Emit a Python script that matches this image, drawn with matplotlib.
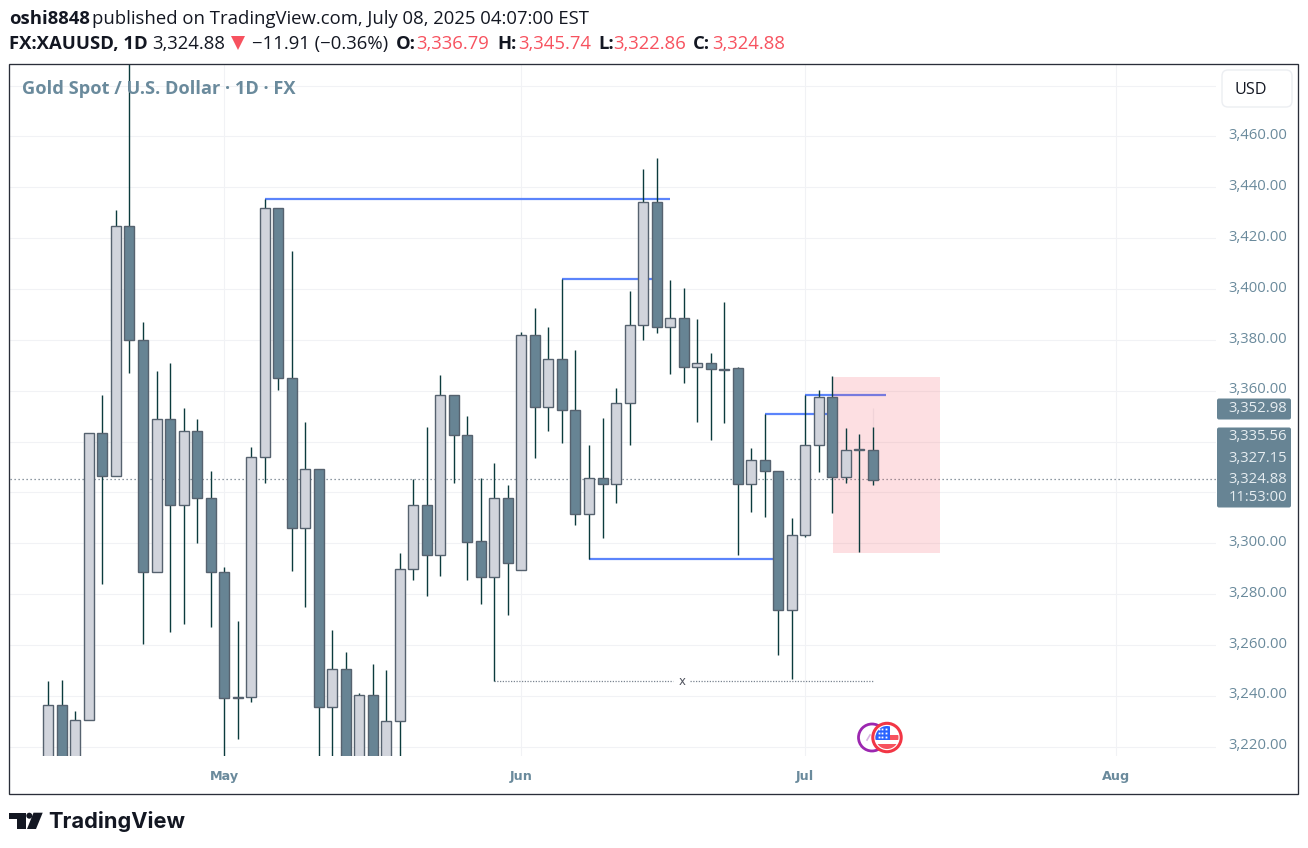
import matplotlib
matplotlib.use("Agg")
import matplotlib.pyplot as plt
from matplotlib.patches import Circle, FancyBboxPatch, Polygon, Rectangle
from matplotlib.transforms import ScaledTranslation

# ---------- data ----------
opens = [3205, 3236.2, 3205, 3230.3, 3343.2, 3326.6, 3424.7, 3379.8, 3288.8, 3348.7,
         3314.9, 3344, 3317.7, 3288.6, 3239.4, 3239.4, 3333.8, 3431.8, 3364.9, 3305.9,
         3329.1, 3235.4, 3250.4, 3212, 3240.2, 3212, 3230, 3289.7, 3314.9, 3295.2,
         3358.2, 3342.5, 3300.7, 3286.6, 3317.7, 3289.3, 3381.8, 3353.5, 3372.3, 3352.3,
         3311.4, 3325.5, 3323.2, 3355, 3385.7, 3434.1, 3384.9, 3388.5, 3369.2, 3370.8,
         3368.6, 3368.8, 3323.2, 3332.6, 3328.3, 3273.6, 3303.1, 3338.5, 3357.4, 3325.9,
         3336.9, 3336.79]
highs = [3245.8, 3246.2, 3234, 3343.2, 3358.3, 3431.1, 3500, 3387, 3367.7, 3370.9,
         3353.2, 3348.8, 3328.4, 3290.5, 3269.4, 3337.8, 3435.4, 3431.8, 3415, 3347.7,
         3329.1, 3265.9, 3257.2, 3241, 3252.5, 3250.1, 3296.2, 3325.1, 3345.6, 3366.2,
         3358.2, 3350, 3325.5, 3331.6, 3322.9, 3383.1, 3392.5, 3385.1, 3404.1, 3376,
         3338.6, 3349.3, 3361.1, 3399.2, 3447.2, 3451.5, 3403.5, 3400.4, 3388.2, 3374.8,
         3394.9, 3369.3, 3337.5, 3350.8, 3328.3, 3309.9, 3358.3, 3360.3, 3365.8, 3345.3,
         3343, 3345.74]
lows = [3195, 3195, 3195, 3230.3, 3284.1, 3326.6, 3367.1, 3260.5, 3288.8, 3265.2,
        3268.3, 3300.2, 3267.2, 3210, 3223.1, 3237.6, 3323.8, 3360.4, 3289.2, 3275,
        3210, 3210, 3205, 3205, 3205, 3205, 3210, 3285.5, 3279.3, 3287.2,
        3323.8, 3285.6, 3276.2, 3245.8, 3271.9, 3289.3, 3333.6, 3344.3, 3339.5, 3307.3,
        3293.9, 3302.2, 3315.9, 3338.8, 3380.1, 3382.8, 3366.7, 3363.1, 3347.8, 3340.7,
        3347.4, 3295.5, 3312.4, 3310.4, 3256.1, 3246.7, 3302.6, 3328.1, 3312, 3323.8,
        3296.7, 3322.86]
closes = [3236.2, 3205, 3230.3, 3343.2, 3326.6, 3424.7, 3379.8, 3288.8, 3348.7, 3314.9,
          3344, 3317.7, 3288.6, 3239, 3239, 3333.8, 3431.8, 3364.9, 3305.9, 3329.1,
          3235.4, 3250.4, 3212, 3240.2, 3212, 3230, 3289.7, 3314.9, 3295.2, 3358.2,
          3342.5, 3300.6, 3286.6, 3317.7, 3292.1, 3381.8, 3353.5, 3372.3, 3352.3, 3311.4,
          3325.5, 3323.2, 3355, 3385.7, 3434.1, 3384.9, 3388.5, 3369.2, 3370.8, 3368.4,
          3368.3, 3323.2, 3332.6, 3328.3, 3273.6, 3303.1, 3338.5, 3357.4, 3325.9, 3336.6,
          3336.6, 3324.88]

price_ticks = [3220, 3240, 3260, 3280, 3300, 3320, 3340, 3360, 3380, 3400, 3420, 3440, 3460, 3480]
price_tick_labels = ["3,220.00", "3,240.00", "3,260.00", "3,280.00", "3,300.00", "", "",
                     "3,360.00", "3,380.00", "3,400.00", "3,420.00", "3,440.00", "3,460.00", ""]
month_bars = [13, 35, 56, 79]
month_labels = ["May", "Jun", "Jul", "Aug"]

# drawn levels: (first bar, last bar, price)
blue_levels = [(16, 46.0, 3435.4), (38, 45, 3404.1), (40, 54, 3293.9), (53, 58, 3350.8), (56, 62.0, 3358.3)]
zone_bars = (58.05, 65.96)
zone_prices = (3296.2, 3365.4)
last_price = 3325.1
low_level = (33, 61, 3245.7)
low_gap = (46.2, 47.5)
ghost_bar = 61
ghost_range = (3345.74, 3353.0)

# ---------- colours ----------
LIGHT = "#d1d4dc"
DARK = "#678494"
EDGE = "#56626f"
WICK = "#0b3b3d"
GRID = "#f1f2f5"
AXTEXT = "#6a8a9c"
BLUE = "#5b84fb"
RED = "#f7525f"
INK = "#131722"

W, H = 1308, 848
fig = plt.figure(figsize=(W / 100, H / 100), dpi=100, facecolor="white")

# pane in pixels
pl, pr, pt, pb = 10, 1216, 64, 756
ax = fig.add_axes([pl / W, 1 - pb / H, (pr - pl) / W, (pb - pt) / H])
ax.set_xlim(-2.84, 86.39)
ax.set_ylim(3216.3, 3488.5)
for s in ax.spines.values():
    s.set_visible(False)
ax.set_axisbelow(True)
ax.grid(True, color=GRID, lw=0.8, zorder=0)

ax.yaxis.tick_right()
ax.set_yticks(price_ticks)
ax.set_yticklabels(price_tick_labels, fontsize=10.7, color=AXTEXT, family="Open Sans")
ax.tick_params(axis="y", length=0, pad=8.6)
off = ScaledTranslation(0, 2.0 / 72, fig.dpi_scale_trans)
for t in ax.get_yticklabels():
    t.set_transform(t.get_transform() + off)
ax.set_xticks(month_bars)
ax.set_xticklabels(month_labels, fontsize=9.2, color=AXTEXT, family="DejaVu Sans", fontweight="bold")
ax.tick_params(axis="x", length=0, pad=10)

# levels behind the candles
ax.axhline(last_price, color="#6a7885", lw=0.9, ls=(0, (1, 2.2)), zorder=1)
ax.plot([low_level[0], low_gap[0]], [low_level[2]] * 2, color="#7a8490", lw=0.9, ls=(0, (1, 1.2)), zorder=1)
ax.plot([low_gap[1], low_level[1]], [low_level[2]] * 2, color="#7a8490", lw=0.9, ls=(0, (1, 1.2)), zorder=1)
ax.text(sum(low_gap) / 2 + 0.07, low_level[2], "x", ha="center", va="center", fontsize=8.5, color="#50535e", zorder=2)
for a, b, p in blue_levels:
    ax.plot([a, b], [p, p], color=BLUE, lw=1.6, solid_capstyle="butt", zorder=2)
ax.add_patch(Rectangle((zone_bars[0], zone_prices[0]), zone_bars[1] - zone_bars[0],
                       zone_prices[1] - zone_prices[0], facecolor="#f7525f", alpha=0.18, lw=0, zorder=3))
ax.vlines([ghost_bar], [ghost_range[0]], [ghost_range[1]], color="#f0d3d8", lw=0.9, zorder=3.5)

# candles
xs = list(range(len(opens)))
ax.vlines(xs, lows, highs, color=WICK, lw=1.0, zorder=4)
bottoms = [min(o, c) for o, c in zip(opens, closes)]
heights = [abs(o - c) for o, c in zip(opens, closes)]
colors = [LIGHT if c > o else DARK for o, c in zip(opens, closes)]
ax.bar(xs, heights, bottom=bottoms, width=0.74, color=colors, edgecolor=EDGE, linewidth=1.0, zorder=5)

# overlay in pixel coordinates for page furniture
ov = fig.add_axes([0, 0, 1, 1], facecolor="none")
ov.set_xlim(0, W)
ov.set_ylim(H, 0)
ov.axis("off")

ov.add_patch(Rectangle((9.0, 63.5), 1289, 730.5, fill=False, edgecolor="#2a2e39", lw=0.95))
ov.text(22, 88.5, "Gold Spot / U.S. Dollar · 1D · FX", fontsize=13.15, fontweight="bold", color=AXTEXT,
        family="Open Sans", va="center")

# USD button
ov.add_patch(FancyBboxPatch((1226, 74), 62, 29, boxstyle="round,pad=4,rounding_size=6",
                            facecolor="white", edgecolor="#eceef2", lw=1))
ov.text(1250.7, 89.5, "USD", fontsize=11.6, color=INK, family="Open Sans", ha="center", va="center")

# price labels
ov.add_patch(FancyBboxPatch((1218, 399.5), 72, 19, boxstyle="round,pad=1,rounding_size=2", facecolor=DARK, lw=0))
ov.add_patch(FancyBboxPatch((1218, 428.5), 72, 78, boxstyle="round,pad=1,rounding_size=2", facecolor=DARK, lw=0))
for y, s in [(407, "3,352.98"), (435, "3,335.56"), (456.3, "3,327.15"), (477.3, "3,324.88"), (495.2, "11:53:00")]:
    ov.text(1258, y, s, fontsize=10.7, color="#e6edf1", family="Open Sans", ha="center", va="center_baseline")

# header
ff = "Open Sans"
fs = 13.3
def hdr(x, y, s, **kw):
    kw.setdefault("color", INK)
    ov.text(x, y, s, fontsize=fs, family=ff, va="baseline", **kw)
hdr(9, 24, "oshi8848", fontsize_=None) if False else hdr(9, 24, "oshi8848", fontweight="bold")
hdr(92, 24, "published on TradingView.com, July 08, 2025 04:07:00 EST")
hdr(9, 49, "FX:XAUUSD, 1D", fontweight="bold")
hdr(152, 49, "3,324.88")
ov.add_patch(Polygon([(231, 36), (245, 36), (238, 50)], facecolor=RED, lw=0))
hdr(252, 49, "−11.91 (−0.36%)")
for x, s in [(395.7, "O:"), (497, "H:"), (598, "L:"), (693, "C:")]:
    hdr(x, 49, s, fontweight="bold")
for x, s in [(416, "3,336.79"), (517.7, "3,345.74"), (613, "3,322.86"), (711.7, "3,324.88")]:
    hdr(x, 49, s, color=RED)

# TradingView logo
LOGO = "#131722"
ov.add_patch(Polygon([(9, 812.7), (26, 812.7), (26, 829), (16.7, 829), (16.7, 818.5), (9, 818.5)], facecolor=LOGO, lw=0))
ov.add_patch(Circle((29.3, 815.7), 3.0, facecolor=LOGO, lw=0))
ov.add_patch(Polygon([(33.5, 812.7), (42.7, 812.7), (36, 829), (27, 829)], facecolor=LOGO, lw=0))
ov.text(48, 821.5, "TradingView", fontsize=15.7, fontweight="bold", family="Inter", color=LOGO, va="center")

# event markers
ov.add_patch(Circle((872, 737.5), 13.5, facecolor="white", edgecolor="#9c27b0", lw=2.0))
ov.plot([867, 870], [740, 735], color="#d9b3e3", lw=1.2)
ov.add_patch(Circle((887, 737.5), 14.2, facecolor="white", edgecolor="#f23645", lw=2.2))
flag = Circle((887, 737.5), 11.5, transform=ov.transData)
stripe1 = ov.add_patch(Rectangle((875, 734.5), 24, 5.5, facecolor="#f7525f", lw=0))
stripe2 = ov.add_patch(Rectangle((875, 743.5), 24, 6, facecolor="#f7525f", lw=0))
canton = ov.add_patch(Rectangle((875, 725), 15, 15, facecolor="#2962ff", lw=0))
for p in (stripe1, stripe2, canton):
    p.set_clip_path(flag)
for yy in (729, 733, 737):
    for xx in (878.5, 882, 885.5):
        ov.plot(xx, yy, marker="s", ms=1.3, color="white", mew=0)

fig.savefig("out.png", dpi=100)
